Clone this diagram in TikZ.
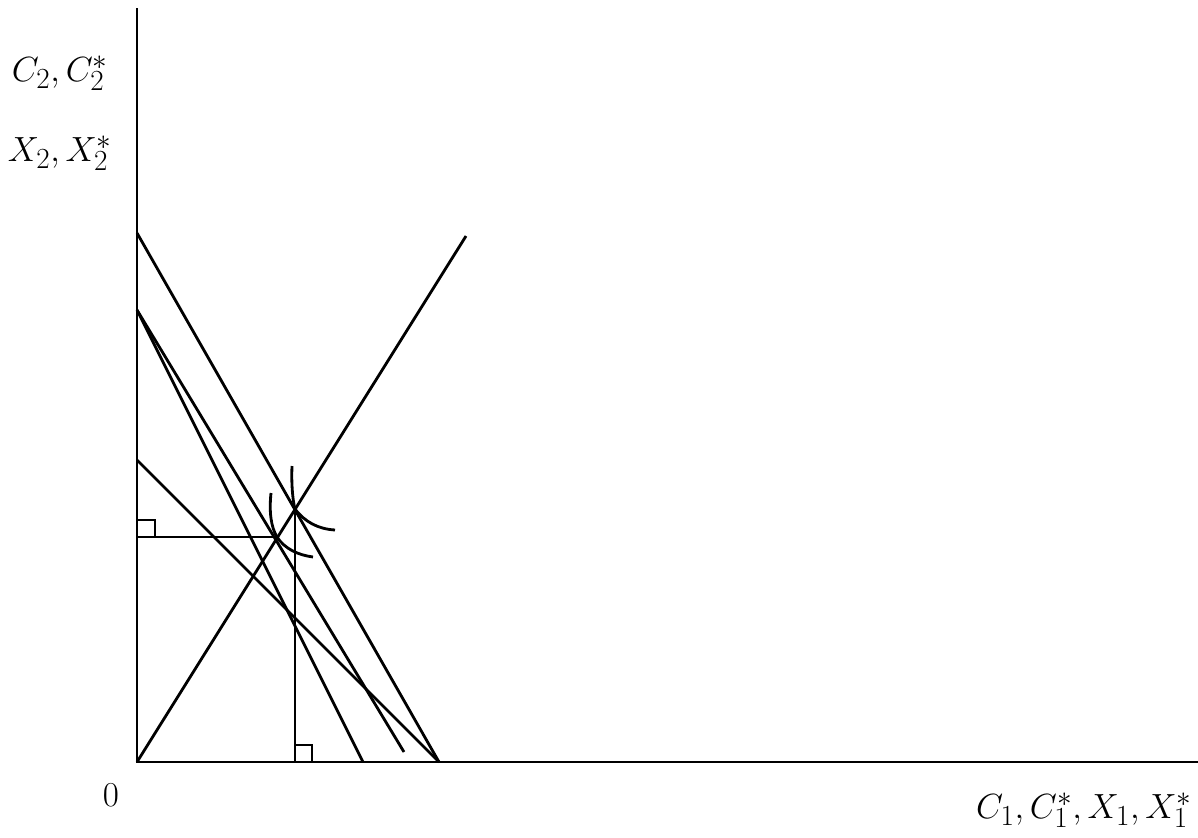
\documentclass[tikz,border=0pt]{standalone}
\begin{document}
\begin{tikzpicture}[x=0.025cm,y=-0.025cm,
  ln/.style={line width=2pt,black},
  lbl/.style={font=\fontsize{28}{32}\selectfont,inner sep=0pt}]
\useasboundingbox (0,0) rectangle (1198,837);
% key points
\coordinate (O) at (137,762);
\coordinate (Ytop) at (137,8);
\coordinate (Xend) at (1198,762);
\coordinate (R) at (466,236);
\coordinate (A) at (137,233);
\coordinate (B) at (137,310);
\coordinate (C) at (137,460);
\coordinate (Q) at (439,762);
\coordinate (S) at (363,762);
\coordinate (T) at (404,752);
\coordinate (E1) at (295,509);
\coordinate (E1b) at (295,762);
\coordinate (E2) at (277,537);
\coordinate (E2a) at (137,537);
% axes
\draw[ln] (Ytop) -- (O) -- (Xend);
% ray
\draw[ln] (O) -- (R);
% budget lines
\draw[ln] (A) -- (Q);
\draw[ln] (C) -- (Q);
\draw[ln] (B) -- (S);
\draw[ln] (B) -- (T);
% drop lines
\draw[ln] (E1) -- (E1b);
\draw[ln] (E2a) -- (E2);
% right angle marks
\draw[ln] (137,520) -- (155,520) -- (155,537);
\draw[ln] (295,745) -- (312,745) -- (312,762);
% indifference curves
\draw[ln] (292,466) .. controls (291,490) and (294,506) .. (E1) .. controls (305,522) and (318,529) .. (335,530);
\draw[ln] (271,493) .. controls (269,512) and (271,527) .. (E2) .. controls (285,549) and (298,555) .. (313,557);
% labels
\node[lbl] (l1) at (60,73) {$C_2,C_2^*$};
\node[lbl] (l2) at (60,153) {$X_2,X_2^*$};
\node[lbl] (l0) at (111,795) {$0$};
\node[lbl] (l3) at (1084,810) {$C_1,C_1^*,X_1,X_1^*$};
\end{tikzpicture}
\end{document}
